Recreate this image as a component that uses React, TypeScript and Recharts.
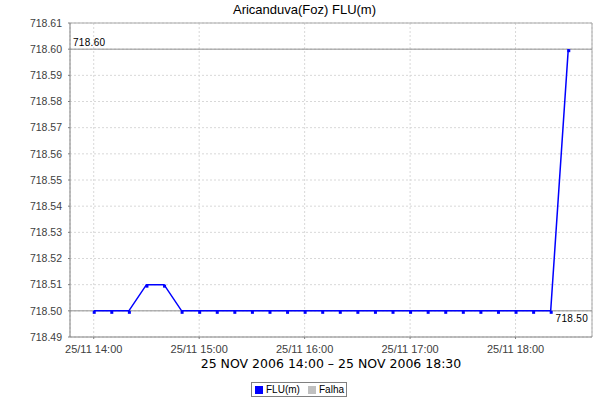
import React from "react";
import { LineChart, Line, XAxis, YAxis, CartesianGrid, ReferenceLine, Legend } from "recharts";

const minutes = [0, 10, 20, 30, 40, 50, 60, 70, 80, 90, 100, 110, 120, 130, 140, 150, 160, 170, 180, 190, 200, 210, 220, 230, 240, 250, 260, 270];
const levels = [718.5, 718.5, 718.5, 718.51, 718.51, 718.5, 718.5, 718.5, 718.5, 718.5, 718.5, 718.5, 718.5, 718.5, 718.5, 718.5, 718.5, 718.5, 718.5, 718.5, 718.5, 718.5, 718.5, 718.5, 718.5, 718.5, 718.5, 718.6];
const xTicks = [0, 60, 120, 180, 240];
const xTickLabels = ["25/11 14:00", "25/11 15:00", "25/11 16:00", "25/11 17:00", "25/11 18:00"];
const yTicks = [718.49, 718.5, 718.51, 718.52, 718.53, 718.54, 718.55, 718.56, 718.57, 718.58, 718.59, 718.6, 718.61];
const xDomain = [-13.5, 283.5];
const yDomain = [718.49, 718.61];
const maxLevel = 718.6;
const minLevel = 718.5;
const title = "Aricanduva(Foz) FLU(m)";
const xLabel = "25 NOV 2006 14:00 \u2013 25 NOV 2006 18:30";
const legendItems = [
  { name: "FLU(m)", color: "#0000ff", w: 32, gap: 10 },
  { name: "Falha", color: "#c0c0c0", w: 28, gap: 0 },
];

const data = minutes.map((m, i) => ({ t: m, v: levels[i] }));

const SANS = "'Liberation Sans', Arial, sans-serif";
const DJV = "'DejaVu Sans', sans-serif";

const SquareDot = (props: any) => {
  const { cx, cy } = props;
  if (cx == null || cy == null) return null;
  return <rect x={cx - 1} y={cy} width={3} height={3} fill="#0000ff" />;
};

const LegendBox = () => (
  <div
    style={{
      boxSizing: "border-box",
      width: 96,
      height: 15,
      border: "1px solid #808080",
      display: "flex",
      alignItems: "center",
      fontFamily: SANS,
      fontSize: 10,
      color: "#000",
      paddingLeft: 3,
      background: "#fff",
      whiteSpace: "nowrap",
    }}
  >
    {legendItems.map((it) => (
      <span key={it.name} style={{ display: "flex", alignItems: "center", marginRight: it.gap }}>
        <span style={{ display: "inline-block", width: 8, height: 8, background: it.color, marginRight: 3 }} />
        <span style={{ display: "inline-block", width: it.w }}>{it.name}</span>
      </span>
    ))}
  </div>
);

export default function App() {
  return (
    <div style={{ position: "absolute", left: 0, top: 0, width: 600, height: 400, background: "#fff" }}>
      <div
        style={{
          position: "absolute",
          left: 0,
          top: 2,
          width: 609,
          textAlign: "center",
          fontFamily: SANS,
          fontSize: 13,
          lineHeight: "15px",
          color: "#000",
          zIndex: 2,
        }}
      >
        {title}
      </div>
      <LineChart width={600} height={400} data={data} margin={{ top: 23, right: 8, left: 0, bottom: 0 }}>
        <CartesianGrid stroke="#d8d8d8" strokeDasharray="2 2" vertical horizontal />
        <XAxis
          dataKey="t"
          type="number"
          domain={xDomain}
          ticks={xTicks}
          tickFormatter={(v: number) => xTickLabels[xTicks.indexOf(v)] ?? ""}
          height={63}
          tickSize={2}
          tickMargin={6}
          stroke="#808080"
          tick={{ fill: "#404040", fontSize: 11, fontFamily: SANS }}
          allowDataOverflow
          label={{ value: xLabel, position: "insideBottom", offset: 32, style: { fill: "#000", fontSize: 12.5, fontFamily: DJV } }}
        />
        <YAxis
          type="number"
          domain={yDomain}
          ticks={yTicks}
          tickFormatter={(v: number) => v.toFixed(2)}
          width={70}
          tickSize={2}
          tickMargin={6}
          stroke="#808080"
          tick={{ fill: "#404040", fontSize: 10.5, fontFamily: SANS }}
          allowDataOverflow
          interval={0}
        />
        <ReferenceLine y={yDomain[1]} stroke="#a8a8a8" />
        <ReferenceLine x={xDomain[1]} stroke="#a8a8a8" />
        <ReferenceLine
          y={maxLevel}
          stroke="#909090"
          label={{ value: maxLevel.toFixed(2), position: "insideBottomLeft", offset: 3, style: { fill: "#000", fontSize: 10, fontFamily: SANS, letterSpacing: 0.3 } }}
        />
        <ReferenceLine
          y={minLevel}
          stroke="#909090"
          label={{ value: minLevel.toFixed(2), position: "insideTopRight", offset: 4, style: { fill: "#000", fontSize: 10, fontFamily: SANS, letterSpacing: 0.3 } }}
        />
        <Line
          type="linear"
          dataKey="v"
          name="FLU(m)"
          stroke="#0000ff"
          strokeWidth={1.5}
          dot={<SquareDot />}
          activeDot={false}
          isAnimationActive={false}
        />
        <Legend
          layout="horizontal"
          verticalAlign="middle"
          content={() => <LegendBox />}
          wrapperStyle={{ left: 251, top: 382, width: 96, height: 15 }}
        />
      </LineChart>
    </div>
  );
}
